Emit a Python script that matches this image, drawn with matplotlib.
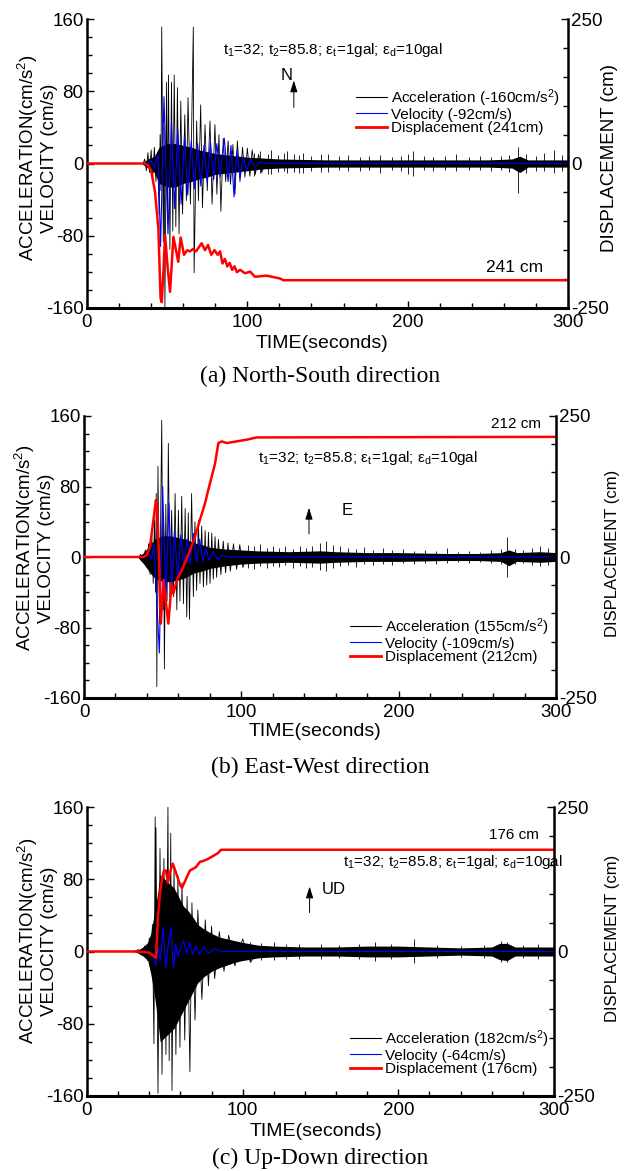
import matplotlib
matplotlib.use("Agg")
import matplotlib.pyplot as plt
from matplotlib.lines import Line2D
from matplotlib.ticker import MultipleLocator

plt.rcParams['font.family'] = ['Liberation Sans', 'DejaVu Sans']
plt.rcParams['mathtext.default'] = 'regular'
plt.rcParams['axes.unicode_minus'] = False

# ---------------- North-South record ----------------
acc_a_t = [35, 36, 37, 38, 39, 40, 41, 42, 43, 44,
           45, 45.6, 46.1, 46.6, 47.6, 48.1, 48.6, 49.6, 50.2, 50.8,
           51.7, 52.7, 53.5, 54.4, 55.4, 56.4, 57.4, 58.5, 59.6, 61,
           62, 63, 64.5, 66.3, 66.8, 68.4, 69.5, 70.9, 72, 73.6,
           75, 76.7, 78, 79.8, 81, 82.3, 83.5, 85, 86.5, 88,
           89.5, 91, 92.3, 93.8, 95.4, 97, 98.5, 100, 101.6, 103,
           105, 107, 109, 111]
acc_a_v = [0, 5, -8, 12, -10, 15, -15, 18, -20, 12,
           -57, 32, -30, 151, -87, 40, -160, 90, -65, 98,
           -95, 90, -75, 98, -70, 84, -78, 69, -56, 54,
           -41, 73, -45, 151, -121, 47, -41, 65, -49, 43,
           -30, 47, -45, 43, -34, 32, -53, 28, -20, 25,
           -23, 21, -34, 25, -20, 18, -15, 17, -14, 15,
           -12, 10, -10, 0]
band_a_t = [0, 34, 38, 42, 45, 50, 55, 60, 65, 70, 75, 80, 90, 100, 110,
            120, 150, 200, 250, 265, 270, 275, 300]
band_a_hi = [0, 0, 5, 8, 18, 22, 22, 20, 18, 15, 13, 11, 9, 7, 6,
             5, 4, 4, 4, 5, 8, 4, 4]
band_a_lo = [0, 0, -5, -10, -22, -26, -26, -22, -20, -17, -15, -12, -10, -8, -6,
             -5, -4, -4, -4, -5, -10, -4, -4]
spk_a_t = [104, 108, 113, 115, 119, 123, 125, 129, 132, 135,
           140, 146, 150, 157, 163, 170, 176, 183, 190, 196,
           200.5, 203.5, 210, 216, 223, 230, 238, 245, 252, 258,
           263, 269, 274, 280, 285, 291, 296]
spk_a_hi = [12, 14, 10, 15, 9, 12, 14, 10, 9, 12,
            8, 10, 10, 8, 9, 7, 8, 9, 7, 8,
            10, 14, 8, 7, 8, 10, 7, 8, 7, 8,
            9, 18, 10, 8, 12, 15, 9]
spk_a_lo = [-14, -10, -12, -12, -9, -8, -10, -9, -11, -10,
            -8, -9, -9, -7, -8, -8, -7, -10, -7, -8,
            -12, -14, -7, -8, -7, -8, -7, -7, -8, -7,
            -9, -33, -10, -8, -8, -10, -8]
vel_a_t = [0, 38, 40, 42, 44.3, 45.9, 48.0, 50.5, 52.7, 54.6,
           56.6, 58.7, 60.8, 62.8, 65, 67, 69, 71, 73, 75,
           77, 79, 81, 83, 85.6, 88, 89.8, 91.7, 93.5, 95.5,
           97.5, 99.5, 102, 105, 108, 112, 300]
vel_a_v = [0, 0, 3, -5, 10, -92, 74, -78, 45, -50,
           38, -45, 30, -35, 25, -28, 22, -25, 20, -20,
           24, -18, 22, -15, 28, -20, 20, -37, 14, -16,
           8, -8, 5, -4, 2, 0, 0]
disp_a_t = [0, 36, 38, 40, 42.4, 44.5, 45.9, 46.6, 47.6, 48.7,
            50.3, 51.8, 53.9, 55.5, 56.9, 58.4, 60.5, 62.5, 64.3, 66,
            68, 71.5, 73.6, 75.5, 77.5, 79.5, 81.5, 83, 84.5, 86,
            87.5, 89, 90.5, 92, 93.5, 95.5, 98.6, 101.7, 104.8, 112,
            120.4, 122.5, 300]
disp_a_v = [0, 0, -3, -12, -49, -112, -233, -240, -190, -124,
            -180, -222, -127, -150, -170, -128, -158, -150, -152, -148,
            -152, -138, -150, -141, -158, -150, -158, -152, -173, -165,
            -178, -172, -184, -178, -188, -184, -190, -187, -196, -194,
            -199, -202, -202]

# ---------------- East-West record ----------------
acc_b_t = [35, 36, 37.5, 39, 40, 41, 42, 43, 44, 44.8,
           45.5, 45.9, 46.3, 47, 48, 49.4, 50.2, 50.6, 51.1, 52,
           52.8, 53.6, 54.6, 55.7, 56.8, 57.9, 59, 60, 61, 62.1,
           63.2, 64.3, 65.3, 66.3, 67, 68.4, 69.5, 70.5, 71.6, 72.7,
           73.7, 74.8, 75.9, 77, 78, 79.1, 80.1, 81.2, 82.2, 83.3,
           84.3, 85.4, 87, 88.5, 90, 91.5, 93, 95, 97, 99,
           101, 103]
acc_b_v = [0, 3, -5, 8, -12, 15, -20, 30, -30, 42,
           -40, 72, -147, 103, -75, 155, -60, 40, -127, 60,
           -50, 129, -45, 53, -45, 72, -60, 53, -50, 69,
           -53, 55, -68, 50, -71, 72, -45, 40, -38, 42,
           -30, 35, -34, 30, -32, 28, -30, 27, -25, 23,
           -23, 20, -20, 18, -18, 16, -16, 15, -14, 14,
           -12, 0]
band_b_t = [0, 34, 38, 42, 45, 50, 55, 60, 65, 70, 75, 80, 90, 100, 110,
            130, 150, 160, 180, 200, 230, 250, 265, 270, 275, 290, 300]
band_b_hi = [0, 0, 5, 14, 20, 24, 24, 22, 20, 16, 14, 11, 9, 8, 7,
             6, 7, 6, 5, 5, 4, 4, 5, 8, 5, 6, 5]
band_b_lo = [0, 0, -8, -18, -24, -28, -28, -26, -23, -18, -16, -13, -10, -8, -7,
             -6, -7, -6, -5, -5, -4, -4, -5, -10, -5, -6, -5]
spk_b_t = [104, 108, 112, 116, 120, 124, 128, 133, 137, 141,
           145, 150, 154, 158, 163, 168, 173, 178, 184, 190,
           196, 203, 210, 217, 224, 231, 238, 245, 252, 259,
           265, 269, 274, 279, 285, 290, 295]
spk_b_hi = [14, 12, 15, 10, 12, 10, 13, 9, 12, 10,
            13, 16, 18, 14, 12, 10, 9, 11, 8, 10,
            8, 9, 7, 8, 7, 10, 6, 7, 6, 8,
            9, 23, 9, 8, 10, 12, 10]
spk_b_lo = [-12, -14, -10, -12, -10, -11, -9, -12, -10, -13,
            -11, -15, -16, -12, -10, -9, -11, -8, -9, -8,
            -9, -7, -8, -7, -8, -7, -6, -7, -6, -7,
            -8, -23, -8, -7, -9, -10, -9]
vel_b_t = [0, 38, 41, 43, 44.5, 47.9, 50, 52, 54, 55.7,
           57.5, 59.5, 61.5, 63.5, 65.5, 67.5, 69.5, 71.5, 73.5, 75.5,
           77.5, 79.5, 82, 85, 88, 92, 300]
vel_b_v = [0, 0, 5, -3, 15, -109, 80, -50, 61, -40,
           30, -25, 25, -12, 20, -8, 27, -6, 20, -5,
           10, -4, 6, -3, 2, 0, 0]
disp_b_t = [0, 37.7, 39.8, 41.9, 44.1, 45.7, 46.6, 47.7, 48.8, 50.5,
            53.6, 55.7, 56.8, 59, 63.2, 67.4, 70.6, 73.7, 76.9, 79,
            81.2, 83.3, 85.4, 87.5, 90.7, 97, 103.4, 109.8, 300]
disp_b_v = [0, 0, 3, 18, 65, 101, 89, -6, -118, -41,
            -118, -47, -65, -41, -17, 12, 36, 66, 95, 119,
            143, 166, 202, 205, 202, 205, 208, 212, 213]

# ---------------- Up-Down record ----------------
acc_c_t = [30, 33, 35, 37, 39, 40, 41, 42, 43, 43.8,
           44.1, 44.3, 45.6, 46.9, 48.2, 49.4, 50.7, 52.0, 52.8, 53.8,
           54.6, 55.9, 57.1, 58.4, 59.7, 61.0, 62.8, 64.3, 66.1, 67.4,
           69.4, 71.2, 73.8, 76, 78, 80, 82, 85, 88, 91,
           95, 100, 105, 110]
acc_c_v = [0, 2, -4, 6, -10, 15, -20, 30, -102, 149,
           -50, 137, -157, 114, -136, 103, -114, 160, -121, 131,
           -154, 95, -114, 84, -106, 76, -98, 61, -133, 54,
           -76, 46, -53, 35, -38, 28, -30, 22, -22, 18,
           -16, 14, -12, 0]
band_c_t = [0, 30, 33, 36, 39, 41, 43, 45, 47, 50, 53, 56, 59, 62, 65, 68,
            71, 75, 80, 85, 90, 95, 100, 110, 120, 140, 160, 180, 200, 220,
            240, 260, 265, 270, 275, 290, 300]
band_c_hi = [0, 0, 2, 5, 10, 20, 40, 60, 85, 80, 75, 70, 60, 50, 45, 38,
             30, 25, 20, 16, 14, 12, 10, 7, 6, 5, 5, 6, 6, 5,
             4, 5, 9, 9, 5, 5, 5]
band_c_lo = [0, 0, -2, -5, -10, -25, -45, -70, -100, -95, -90, -85, -75, -65, -55, -45,
             -35, -28, -22, -18, -15, -12, -10, -7, -6, -5, -5, -6, -6, -5,
             -4, -5, -9, -10, -5, -5, -5]
spk_c_t = [105, 112, 120, 128, 136, 150, 162, 175, 185, 195,
           210, 225, 240, 255, 266, 270, 280, 290]
spk_c_hi = [10, 9, 10, 8, 8, 8, 7, 8, 10, 8,
            14, 7, 6, 7, 12, 10, 7, 8]
spk_c_lo = [-10, -9, -9, -8, -8, -8, -7, -8, -10, -8,
            -13, -7, -6, -7, -12, -12, -7, -8]
vel_c_t = [0, 38, 42, 44.3, 45.5, 47, 49, 50.5, 52.5, 54,
           55.5, 57, 58.5, 60, 62, 64, 66, 68, 70, 72,
           75, 78, 82, 86, 300]
vel_c_v = [0, 0, -3, -15, 5, -10, 27, -18, 12, 27,
           -18, 8, -6, 3, 12, -2, 10, -3, 6, -3,
           5, -2, 3, 0, 0]
disp_c_t = [0, 31.5, 40, 43, 44.3, 45.6, 46.9, 48.2, 49.4, 50.7,
            52, 53.3, 55.1, 57.1, 59.7, 61, 63.5, 66.1, 70, 72.5,
            75.1, 77.6, 81.5, 84, 86.1, 300]
disp_c_v = [0, 0, -2, -8, -11, 60, 101, 125, 140, 140,
            119, 137, 152, 137, 116, 110, 125, 140, 146, 155,
            157, 160, 166, 170, 176, 176]

info_txt = "t$_1$=32; t$_2$=85.8; \u03b5$_t$=1gal; \u03b5$_d$=10gal"

W, H = 626, 1171
fig = plt.figure(figsize=(W / 100, H / 100), dpi=100)


def fx(x):
    return x / W


def fy(y):
    return 1 - y / H


def panel(box, acc, band, spk, vel, disp, legend_labels, legend_xy,
          info_xy, arrow, dir_label, final_txt, caption, label_y, label_x,
          disp_label_xy, disp_fs, time_y, caption_y):
    l, t, r, b = box
    ax = fig.add_axes([fx(l), fy(b), (r - l) / W, (b - t) / H])
    ax.fill_between(band[0], band[2], band[1], color='black', lw=0)
    ax.plot(acc[0], acc[1], color='black', lw=0.6)
    ax.vlines(spk[0], spk[2], spk[1], color='black', lw=0.6)
    ax.plot(vel[0], vel[1], color='blue', lw=0.8)
    ax.set_xlim(0, 300)
    ax.set_ylim(-160, 160)
    ax.xaxis.set_major_locator(MultipleLocator(100))
    ax.xaxis.set_minor_locator(MultipleLocator(20))
    ax.yaxis.set_major_locator(MultipleLocator(80))
    ax.yaxis.set_minor_locator(MultipleLocator(20))
    ax.tick_params(which='both', direction='in', top=False, right=False,
                   labelsize=13.5, width=1)
    ax.tick_params(which='major', length=5)
    ax.tick_params(which='minor', length=3.5)
    ax.tick_params(axis='y', pad=2.5)
    ax.tick_params(axis='x', pad=4)
    ax.spines['top'].set_visible(False)
    ax.spines['right'].set_visible(False)
    ax.spines['left'].set_linewidth(1.8)
    ax.spines['bottom'].set_linewidth(2.2)

    ax2 = ax.twinx()
    ax2.plot(disp[0], disp[1], color='red', lw=1.8)
    ax2.set_ylim(-250, 250)
    ax2.yaxis.set_major_locator(MultipleLocator(250))
    ax2.yaxis.set_minor_locator(MultipleLocator(50))
    ax2.tick_params(which='both', direction='in', labelsize=13.5, width=1, pad=2.5)
    ax2.tick_params(which='major', length=5)
    ax2.tick_params(which='minor', length=3.5)
    for s in ('top', 'left', 'bottom'):
        ax2.spines[s].set_visible(False)
    ax2.spines['right'].set_linewidth(1.8)

    handles = [Line2D([], [], color='black', lw=0.8),
               Line2D([], [], color='blue', lw=0.8),
               Line2D([], [], color='red', lw=2.0)]
    ax2.legend(handles, legend_labels, loc='upper left',
               bbox_to_anchor=(fx(legend_xy[0]), fy(legend_xy[1])),
               bbox_transform=fig.transFigure, frameon=False, fontsize=11,
               handlelength=2.0, handletextpad=0.3, labelspacing=-0.05,
               borderpad=0, borderaxespad=0)

    ax.text(info_xy[0], info_xy[1], info_txt, fontsize=11, va='center')
    ax.annotate('', xy=(arrow[0], arrow[2]), xytext=(arrow[0], arrow[1]),
                arrowprops=dict(arrowstyle='-|>,head_length=0.7,head_width=0.22',
                                color='black', lw=0.7))
    ax.text(dir_label[1], dir_label[2], dir_label[0], fontsize=12, va='center')
    ax.text(final_txt[1], final_txt[2], final_txt[0], fontsize=final_txt[3],
            va='center')

    fig.text(fx(label_x), fy(label_y),
             "ACCELERATION(cm/s$^2$)\nVELOCITY (cm/s)", rotation=90,
             ha='center', va='center', fontsize=13.5, linespacing=1.05)
    fig.text(fx(disp_label_xy[0]), fy(disp_label_xy[1]), "DISPLACEMENT (cm)",
             rotation=90, ha='center', va='center', fontsize=disp_fs)
    fig.text(fx((l + r) / 2 - 5), fy(time_y), "TIME(seconds)", ha='center',
             va='center', fontsize=14)
    fig.text(fx(320), fy(caption_y), caption, ha='center', va='center',
             fontsize=17, family='Liberation Serif')


panel((87, 19, 568, 308),
      (acc_a_t, acc_a_v), (band_a_t, band_a_hi, band_a_lo),
      (spk_a_t, spk_a_hi, spk_a_lo), (vel_a_t, vel_a_v), (disp_a_t, disp_a_v),
      ["Acceleration (-160cm/s$^2$)", "Velocity (-92cm/s)",
       "Displacement (241cm)"], (356, 87),
      (85, 126), (129, 59, 95), ("N", 121, 97), ("241 cm", 249, -115, 12.5),
      "(a) North-South direction", 158, 37, (609, 158), 13.5, 343, 376)

panel((84, 416, 556, 698),
      (acc_b_t, acc_b_v), (band_b_t, band_b_hi, band_b_lo),
      (spk_b_t, spk_b_hi, spk_b_lo), (vel_b_t, vel_b_v), (disp_b_t, disp_b_v),
      ["Acceleration (155cm/s$^2$)", "Velocity (-109cm/s)",
       "Displacement (212cm)"], (350, 616),
      (110.6, 112), (143, 23, 59), ("E", 164, 53), ("212 cm", 258.7, 151, 11),
      "(b) East-West direction", 548, 34, (613, 553), 12, 732, 767)

panel((87, 807, 554, 1096),
      (acc_c_t, acc_c_v), (band_c_t, band_c_hi, band_c_lo),
      (spk_c_t, spk_c_hi, spk_c_lo), (vel_c_t, vel_c_v), (disp_c_t, disp_c_v),
      ["Acceleration (182cm/s$^2$)", "Velocity (-64cm/s)",
       "Displacement (176cm)"], (350, 1028),
      (164.4, 99), (143, 40, 75), ("UD", 151, 69), ("176 cm", 258, 129, 11),
      "(c) Up-Down direction", 941, 37, (612, 938), 12, 1131, 1158)

fig.savefig("out.png", dpi=100)
